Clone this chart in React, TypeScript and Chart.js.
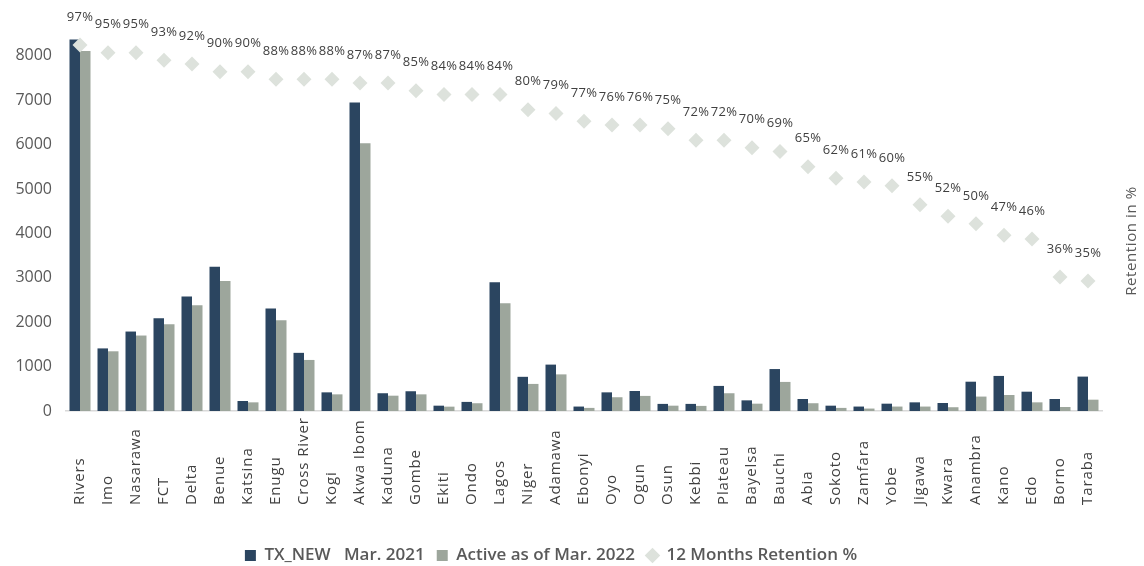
import React, { useEffect, useRef } from 'react';
import { Chart, registerables } from 'chart.js';

Chart.register(...registerables);

const states = [
  'Rivers', 'Imo', 'Nasarawa', 'FCT', 'Delta', 'Benue', 'Katsina', 'Enugu', 'Cross River', 'Kogi',
  'Akwa Ibom', 'Kaduna', 'Gombe', 'Ekiti', 'Ondo', 'Lagos', 'Niger', 'Adamawa', 'Ebonyi', 'Oyo',
  'Ogun', 'Osun', 'Kebbi', 'Plateau', 'Bayelsa', 'Bauchi', 'Abia', 'Sokoto', 'Zamfara', 'Yobe',
  'Jigawa', 'Kwara', 'Anambra', 'Kano', 'Edo', 'Borno', 'Taraba',
];

const txNew = [
  8370, 1410, 1790, 2090, 2580, 3250, 225, 2310, 1310, 420,
  6950, 400, 445, 120, 205, 2900, 770, 1045, 100, 420,
  450, 160, 160, 565, 240, 945, 270, 120, 100, 165,
  195, 180, 660, 790, 435, 270, 775,
];

const active = [
  8110, 1345, 1700, 1955, 2380, 2930, 195, 2045, 1150, 375,
  6030, 345, 375, 98, 175, 2425, 610, 825, 70, 310,
  340, 120, 115, 400, 165, 655, 175, 70, 55, 100,
  100, 85, 325, 360, 195, 90, 255,
];

const retention = [
  97, 95, 95, 93, 92, 90, 90, 88, 88, 88,
  87, 87, 85, 84, 84, 84, 80, 79, 77, 76,
  76, 75, 72, 72, 70, 69, 65, 62, 61, 60,
  55, 52, 50, 47, 46, 36, 35,
];

const yTickValues = [0, 1000, 2000, 3000, 4000, 5000, 6000, 7000, 8000];

const seriesNames = ['TX_NEW   Mar. 2021', 'Active as of Mar. 2022', '12 Months Retention %'];
const rightAxisTitle = 'Retention in %';

const FONT = "'Open Sans', sans-serif";
const DARK = '#2b4560';
const GRAY = '#9da69c';
const DIAMOND = '#dde2dc';

const textPlugin = {
  id: 'customText',
  afterDraw(chart: any) {
    const ctx = chart.ctx as CanvasRenderingContext2D;
    const xs = chart.scales.x;
    ctx.save();
    // category labels (bottom aligned, rotated)
    ctx.font = `15px ${FONT}`;
    ctx.fillStyle = '#404040';
    (ctx as any).letterSpacing = '0.9px';
    ctx.textAlign = 'left';
    ctx.textBaseline = 'middle';
    states.forEach((s, i) => {
      const px = xs.getPixelForTick(i);
      ctx.save();
      ctx.translate(px, 505);
      ctx.rotate(-Math.PI / 2);
      ctx.fillText(s, 0, 0);
      ctx.restore();
    });
    // data labels
    const meta = chart.getDatasetMeta(2);
    ctx.font = `13px ${FONT}`;
    (ctx as any).letterSpacing = '0.3px';
    ctx.fillStyle = '#404040';
    ctx.textAlign = 'center';
    meta.data.forEach((pt: any, i: number) => {
      ctx.fillText(retention[i] + '%', pt.x, pt.y - 28);
    });
    // right axis title
    ctx.font = `15px ${FONT}`;
    (ctx as any).letterSpacing = '0.6px';
    ctx.fillStyle = '#595959';
    ctx.save();
    ctx.translate(1132, 241);
    ctx.rotate(-Math.PI / 2);
    ctx.fillText(rightAxisTitle, 0, 0);
    ctx.restore();
    ctx.restore();
  },
};

export default function App() {
  const ref = useRef<HTMLCanvasElement>(null);

  useEffect(() => {
    if (!ref.current) return;
    const chart = new Chart(ref.current, {
      type: 'bar',
      data: {
        labels: states,
        datasets: [
          {
            type: 'bar',
            label: seriesNames[0],
            data: txNew,
            backgroundColor: DARK,
            pointStyle: 'rect',
            yAxisID: 'y',
            order: 1,
            barPercentage: 1,
            categoryPercentage: 0.75,
          } as any,
          {
            type: 'bar',
            label: seriesNames[1],
            data: active,
            backgroundColor: GRAY,
            pointStyle: 'rect',
            yAxisID: 'y',
            order: 1,
            barPercentage: 1,
            categoryPercentage: 0.75,
          } as any,
          {
            type: 'line',
            label: seriesNames[2],
            data: retention.map((r) => r / 100),
            showLine: false,
            pointStyle: 'rectRot',
            pointRadius: 7.5,
            pointHoverRadius: 7.5,
            pointBackgroundColor: DIAMOND,
            pointBorderColor: DIAMOND,
            pointBorderWidth: 0,
            backgroundColor: DIAMOND,
            borderColor: DIAMOND,
            yAxisID: 'y1',
            order: 0,
          } as any,
        ],
      },
      options: {
        animation: false,
        responsive: true,
        maintainAspectRatio: false,
        layout: { padding: { top: 31, right: 42, left: 0, bottom: -8 } },
        plugins: {
          tooltip: { enabled: false },
          legend: {
            position: 'bottom',
            labels: {
              usePointStyle: true,
              boxWidth: 11,
              boxHeight: 11,
              padding: 12,
              color: '#595959',
              font: { family: FONT, size: 17, weight: 600 as any },
              sort: (a: any, b: any) => a.datasetIndex - b.datasetIndex,
            },
          },
        },
        scales: {
          x: {
            type: 'category',
            grid: { display: false, drawTicks: false },
            border: { display: true, color: '#d9d9d9', width: 1.5 },
            ticks: { display: false },
            afterFit: (s: any) => {
              s.height = 124;
            },
          },
          y: {
            position: 'left',
            min: 0,
            max: 8560,
            grid: { display: false, drawTicks: false },
            border: { display: false },
            ticks: {
              autoSkip: false,
              padding: 14,
              color: '#595959',
              font: { family: FONT, size: 16 },
              callback: (v: any) => String(v),
            },
            afterBuildTicks: (s: any) => {
              s.ticks = yTickValues.map((v) => ({ value: v }));
            },
            afterFit: (s: any) => {
              s.width = 66;
            },
          },
          y1: {
            display: false,
            position: 'right',
            min: 0.008,
            max: 1.007,
          },
        },
      },
      plugins: [textPlugin],
    });
    return () => chart.destroy();
  }, []);

  return (
    <div style={{ position: 'absolute', left: 0, top: 0, width: 1144, height: 566 }}>
      <canvas ref={ref} />
    </div>
  );
}
